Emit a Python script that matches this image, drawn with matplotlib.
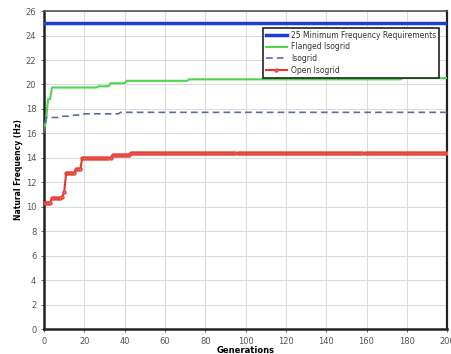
import numpy as np
import matplotlib
matplotlib.use("Agg")
import matplotlib.pyplot as plt

# Step data: (start generation, value); each value holds until the next start
req_value = 25.0
gen_max = 200

flanged_starts = [0, 1, 2, 4, 27, 33, 41, 72, 178]
flanged_values = [16.3, 17.0, 18.8, 19.75, 19.85, 20.1, 20.3, 20.42, 20.52]

iso_starts = [0, 1, 8, 15, 20, 38]
iso_values = [16.0, 17.3, 17.4, 17.5, 17.6, 17.72]

open_starts = [0, 4, 9, 10, 11, 16, 19, 34, 43]
open_values = [10.33, 10.68, 10.8, 11.2, 12.73, 13.08, 13.98, 14.22, 14.38]

generations = np.arange(0, gen_max + 1)

def expand(starts, values):
    ends = starts[1:] + [gen_max + 1]
    counts = [e - s for s, e in zip(starts, ends)]
    return np.repeat(values, counts)

flanged = expand(flanged_starts, flanged_values)
isogrid = expand(iso_starts, iso_values)
open_iso = expand(open_starts, open_values)

fig = plt.figure(figsize=(4.52, 3.54), dpi=100)
ax = fig.add_axes([0.0973, 0.0706, 0.892, 0.898])

ax.plot([0, gen_max], [req_value, req_value], color="#1a3fd6", lw=2.5,
        label="25 Minimum Frequency Requirements", zorder=3)
ax.plot(generations, flanged, color="#4fd64a", lw=1.5, label="Flanged Isogrid", zorder=3)
ax.plot(generations, isogrid, color="#5a6aa8", lw=1.2, ls=(0, (4, 2.5)), label="Isogrid", zorder=3)
ax.plot(generations, open_iso, color="#e3382c", lw=1.5, marker="o", ms=2.4,
        mfc="#f06a60", mec="#e3382c", mew=0.7, label="Open Isogrid", zorder=3)

ax.set_xlim(0, 200)
ax.set_ylim(0, 26)
ax.set_xticks(np.arange(0, 201, 20))
ax.set_yticks(np.arange(0, 27, 2))
ax.grid(True, color="#dcdcdc", lw=0.8)
ax.set_axisbelow(True)
ax.tick_params(labelsize=6, colors="#555555", length=2, width=0.6)
for lbl in ax.get_xticklabels() + ax.get_yticklabels():
    lbl.set_color("#555555")

ax.spines["left"].set_linewidth(1.8)
ax.spines["bottom"].set_linewidth(1.8)
ax.spines["top"].set_linewidth(1.2)
ax.spines["right"].set_linewidth(1.6)
for s in ax.spines.values():
    s.set_color("#222222")
ax.spines["top"].set_color("#555555")

ax.set_xlabel("Generations", fontsize=6, fontweight="bold", labelpad=0)
ax.set_ylabel("Natural Frequency (Hz)", fontsize=5.5, fontweight="bold", labelpad=2)

leg = ax.legend(loc="upper right", bbox_to_anchor=(0.99, 0.96), fontsize=5.5,
                frameon=True, fancybox=False, edgecolor="#222222", framealpha=1,
                handlelength=2.8, borderpad=0.4, labelspacing=0.35, handletextpad=0.5)
leg.get_frame().set_linewidth(1.2)
for t in leg.get_texts():
    t.set_color("#333333")

fig.savefig("out.png", dpi=100)
